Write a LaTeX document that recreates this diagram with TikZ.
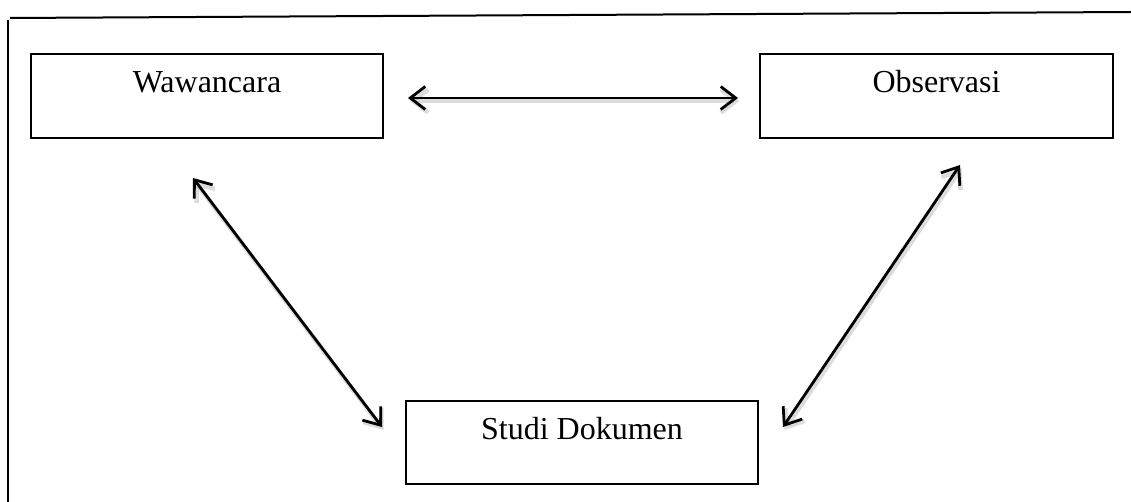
\documentclass[tikz,border=0pt]{standalone}
\usepackage{fontspec}
\setmainfont{Liberation Serif}
\usetikzlibrary{arrows.meta}
\begin{document}
\begin{tikzpicture}[x=1pt,y=-1pt,
  box/.style={draw, line width=1.6pt, minimum width=352pt, minimum height=84pt,
    inner sep=0pt, text height=20pt, text depth=26pt,
    font=\fontsize{32}{36}\selectfont},
  dblarrow/.style={line width=2.8pt,
    {Straight Barb[length=15pt,width=23pt]}-{Straight Barb[length=15pt,width=23pt]},
    preaction={draw=black!30, line width=4.5pt, transform canvas={shift={(1.5pt,-3pt)}}, opacity=0.45}},
  frame/.style={line width=2pt}]
\useasboundingbox (0,0) rectangle (1131,502);
\coordinate (tl) at (10,18);
\coordinate (tr) at (1131,12);
\coordinate (lt) at (8,20);
\coordinate (lb) at (8,502);
\draw[frame] (tl) -- (tr);
\draw[frame] (lt) -- (lb);
\node[box, minimum width=352pt] (waw) at (207,96) {Wawancara};
\node[box, minimum width=353pt] (obs) at (936.5,96) {Observasi};
\node[box, minimum width=352pt, minimum height=83pt] (stu) at (582,442.5) {Studi Dokumen};
\coordinate (h1) at (408,98);
\coordinate (h2) at (738,98);
\coordinate (l1) at (193,178);
\coordinate (l2) at (382,427);
\coordinate (r1) at (960,165);
\coordinate (r2) at (783,427);
\draw[dblarrow] (h1) -- (h2);
\draw[dblarrow] (l1) -- (l2);
\draw[dblarrow] (r1) -- (r2);
\end{tikzpicture}
\end{document}
